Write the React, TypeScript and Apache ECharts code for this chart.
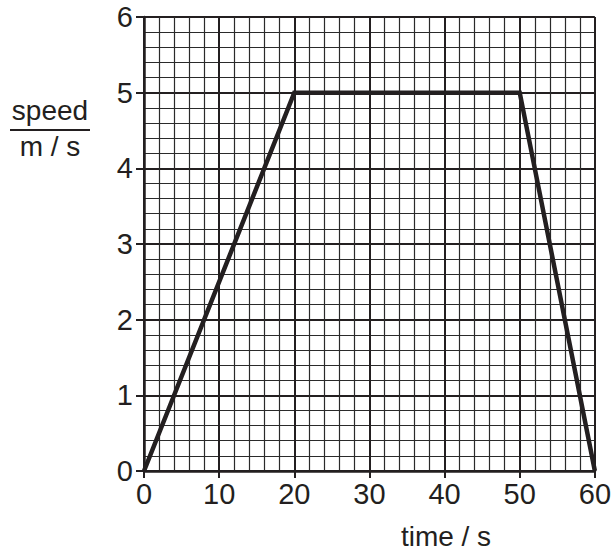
import React, { useEffect, useRef } from "react";
import * as echarts from "echarts";

const timeValues = [0, 20, 50, 60];
const speedValues = [0, 5, 5, 0];
const xTicks = [0, 10, 20, 30, 40, 50, 60];
const yTicks = [0, 1, 2, 3, 4, 5, 6];
const yLabelTop = "speed";
const yLabelBottom = "m / s";
const xLabel = "time / s";

const FONT = "'Liberation Sans', Arial, Helvetica, sans-serif";

export default function App() {
  const ref = useRef<HTMLDivElement>(null);
  useEffect(() => {
    if (!ref.current) return;
    const chart = echarts.init(ref.current, undefined, { renderer: "svg" });
    const data = timeValues.map((t, i) => [t, speedValues[i]]);
    chart.setOption({
      animation: false,
      backgroundColor: "#ffffff",
      grid: { left: 144, right: 17, top: 17, bottom: 83, containLabel: false },
      xAxis: {
        type: "value",
        min: xTicks[0],
        max: xTicks[xTicks.length - 1],
        interval: 10,
        axisLine: { show: true, onZero: false, lineStyle: { color: "#231f20", width: 2.5 } },
        axisTick: { show: true, inside: false, length: 7, lineStyle: { color: "#231f20", width: 2 } },
        axisLabel: { margin: 8, color: "#231f20", fontSize: 29, fontFamily: FONT },
        splitLine: { show: true, lineStyle: { color: "#231f20", width: 2 } },
        minorTick: { show: true, splitNumber: 5, length: 0 },
        minorSplitLine: { show: true, lineStyle: { color: "#2a2a2a", width: 1.2 } },
      },
      yAxis: {
        type: "value",
        min: yTicks[0],
        max: yTicks[yTicks.length - 1],
        interval: 1,
        axisLine: { show: true, onZero: false, lineStyle: { color: "#231f20", width: 2.5 } },
        axisTick: { show: true, inside: false, length: 8, lineStyle: { color: "#231f20", width: 2 } },
        axisLabel: { margin: 11, color: "#231f20", fontSize: 29, fontFamily: FONT },
        splitLine: { show: true, lineStyle: { color: "#231f20", width: 2 } },
        minorTick: { show: true, splitNumber: 5, length: 0 },
        minorSplitLine: { show: true, lineStyle: { color: "#2a2a2a", width: 1.2 } },
      },
      series: [
        {
          type: "line",
          data,
          symbol: "none",
          lineStyle: { color: "#231f20", width: 4.5, join: "miter" },
          z: 10,
        },
      ],
      graphic: [
        {
          type: "text",
          style: {
            text: yLabelTop,
            x: 50,
            y: 110,
            fill: "#231f20",
            font: `28px ${FONT}`,
            align: "center",
            verticalAlign: "middle",
          },
        },
        {
          type: "line",
          shape: { x1: 10, y1: 130, x2: 90, y2: 130 },
          style: { stroke: "#231f20", lineWidth: 2 },
        },
        {
          type: "text",
          style: {
            text: yLabelBottom,
            x: 50,
            y: 146,
            fill: "#231f20",
            font: `28px ${FONT}`,
            align: "center",
            verticalAlign: "middle",
          },
        },
        {
          type: "text",
          style: {
            text: xLabel,
            x: 446,
            y: 536,
            fill: "#231f20",
            font: `28px ${FONT}`,
            align: "center",
            verticalAlign: "middle",
          },
        },
      ],
    });
    return () => chart.dispose();
  }, []);
  return (
    <div
      ref={ref}
      style={{ position: "absolute", left: 0, top: 0, width: 614, height: 554 }}
    />
  );
}
